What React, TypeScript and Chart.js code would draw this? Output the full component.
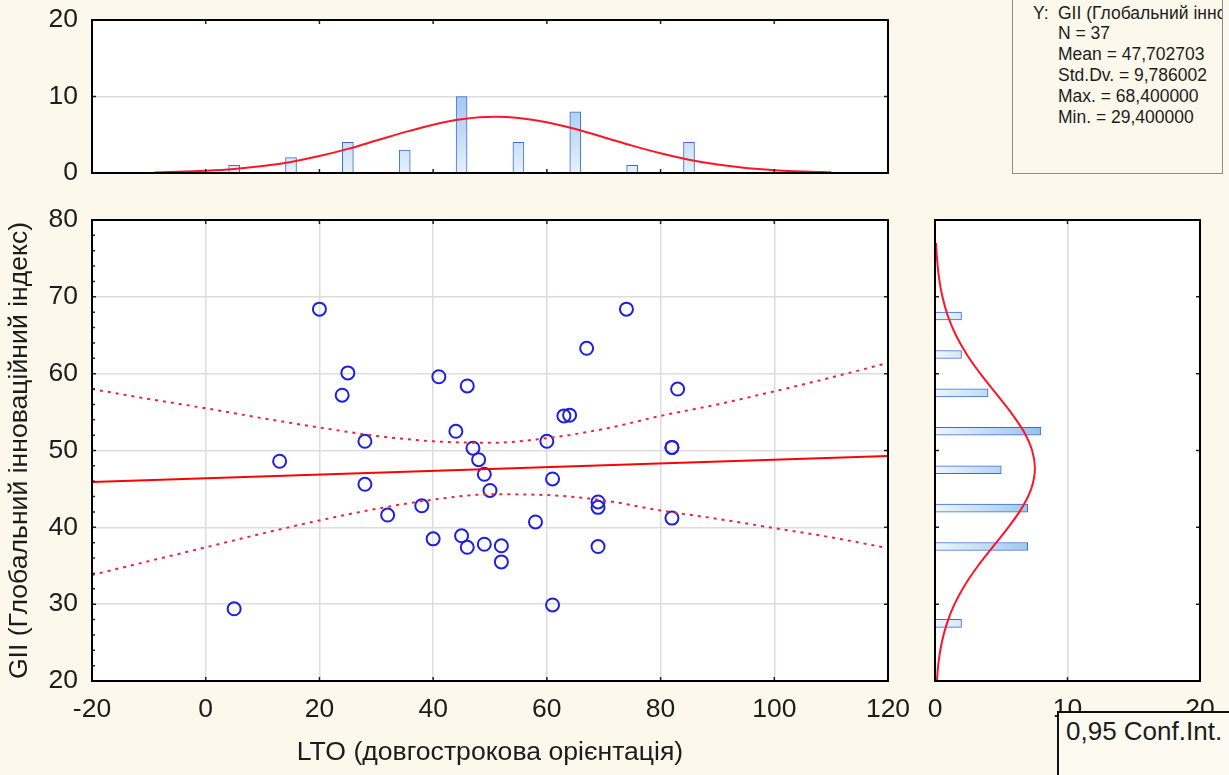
import React, { useEffect, useRef } from "react";
import { Chart, registerables } from "chart.js";
Chart.register(...registerables);

const W = 1229;
const H = 775;
const BG = "#fcf8ec";
const FONT = '"Liberation Sans", Arial, sans-serif';
const TEXT = "#1c1c1c";

// ---- Scatter data (LTO vs GII) ----
const lto = [5, 13, 20, 24, 25, 28, 28, 32, 38, 40, 41, 44, 45, 46, 46, 47, 48, 49, 49, 50, 52, 52, 58, 60, 61, 61, 63, 64, 67, 69, 69, 69, 74, 82, 82, 82, 83];
const gii = [29.4, 48.6, 68.4, 57.2, 60.1, 51.2, 45.6, 41.6, 42.8, 38.5, 59.6, 52.5, 38.9, 58.4, 37.4, 50.3, 48.8, 46.9, 37.8, 44.8, 37.6, 35.5, 40.7, 51.2, 46.3, 29.9, 54.5, 54.6, 63.3, 43.3, 42.6, 37.5, 68.4, 50.4, 50.4, 41.2, 58.0];

// ---- Regression line and 0.95 confidence band ----
const fitX = [-20, 120];
const fitY = [45.9, 49.3];
const ciX = [-20, -10, 0, 10, 20, 30, 40, 50, 60, 70, 80, 90, 100, 110, 120];
const ciUpper = [58.0, 56.7, 55.5, 54.2, 53.0, 51.9, 51.2, 51.0, 51.6, 52.8, 54.5, 56.0, 57.7, 59.5, 61.4];
const ciLower = [33.8, 35.6, 37.4, 39.2, 40.9, 42.4, 43.6, 44.3, 44.2, 43.5, 42.2, 41.1, 39.9, 38.7, 37.3];

// ---- Top histogram (LTO) ----
const ltoBins = [5, 15, 25, 35, 45, 55, 65, 75, 85];
const ltoCounts = [1, 2, 4, 3, 10, 4, 8, 1, 4];
const ltoCurveX = [-9, -5, 0, 5, 10, 15, 20, 25, 30, 35, 40, 45, 51, 55, 60, 65, 70, 75, 80, 85, 90, 95, 100, 105, 110];
const ltoCurveY = [0.08, 0.15, 0.29, 0.52, 0.9, 1.45, 2.21, 3.15, 4.24, 5.34, 6.32, 7.03, 7.35, 7.2, 6.64, 5.75, 4.68, 3.58, 2.57, 1.73, 1.1, 0.65, 0.37, 0.19, 0.09];

// ---- Right histogram (GII) ----
const giiBins = [27.5, 32.5, 37.5, 42.5, 47.5, 52.5, 57.5, 62.5, 67.5];
const giiCounts = [2, 0, 7, 7, 5, 8, 4, 2, 2];
const giiCurveY = [20, 22.5, 25, 27.5, 30, 32.5, 35, 37.5, 40, 42.5, 45, 47.7, 50, 52.5, 55, 57.5, 60, 62.5, 65, 67.5, 70, 72.5, 75, 77];
const giiCurveC = [0.14, 0.27, 0.51, 0.9, 1.47, 2.26, 3.25, 4.38, 5.53, 6.55, 7.26, 7.54, 7.33, 6.69, 5.71, 4.57, 3.42, 2.4, 1.58, 0.97, 0.56, 0.3, 0.15, 0.08];

// ---- Tick values ----
const mainXTicks = [-20, 0, 20, 40, 60, 80, 100, 120];
const mainYTicks = [20, 30, 40, 50, 60, 70, 80];
const topYTicks = [0, 10, 20];
const rightXTicks = [0, 10, 20];

const statsLines = ["N = 37", "Mean = 47,702703", "Std.Dv. = 9,786002", "Max. = 68,400000", "Min. = 29,400000"];

const GRID = "#dcdce3";
const TICK_SIZE = 26.5;
const TITLE_SIZE = 26.6;

function makeFrame(xMarks: number[], yMarks: number[], yMinor: number[] = []) {
  return {
    id: "frame",
    beforeDraw(chart: any) {
      const { ctx, chartArea } = chart;
      if (!chartArea) return;
      const { left, top, right, bottom } = chartArea;
      ctx.save();
      ctx.fillStyle = "#ffffff";
      ctx.fillRect(left, top, right - left, bottom - top);
      ctx.restore();
    },
    afterDraw(chart: any) {
      const { ctx, chartArea, scales } = chart;
      if (!chartArea) return;
      const { left, top, right, bottom } = chartArea;
      ctx.save();
      ctx.strokeStyle = "#222";
      ctx.lineWidth = 1.5;
      ctx.beginPath();
      for (const v of xMarks) {
        const px = scales.x.getPixelForValue(v);
        ctx.moveTo(px, top);
        ctx.lineTo(px, top + 4);
        ctx.moveTo(px, bottom);
        ctx.lineTo(px, bottom - 4);
      }
      for (const v of yMarks) {
        const py = scales.y.getPixelForValue(v);
        ctx.moveTo(left, py);
        ctx.lineTo(left + 4, py);
        ctx.moveTo(right, py);
        ctx.lineTo(right - 4, py);
      }
      for (const v of yMinor) {
        const py = scales.y.getPixelForValue(v);
        ctx.moveTo(left, py);
        ctx.lineTo(left + 3, py);
      }
      ctx.stroke();
      ctx.strokeStyle = "#000";
      ctx.lineWidth = 2;
      ctx.strokeRect(left, top, right - left, bottom - top);
      ctx.restore();
    },
  };
}

const fitY92 = (s: any) => {
  s.width = 92;
  s.paddingTop = 0;
  s.paddingBottom = 0;
};
const fitXBottom = (s: any) => {
  s.height = H - 681;
  s.paddingLeft = 0;
  s.paddingRight = 0;
};

export default function App() {
  const mainRef = useRef<HTMLCanvasElement>(null);
  const topRef = useRef<HTMLCanvasElement>(null);
  const rightRef = useRef<HTMLCanvasElement>(null);

  useEffect(() => {
    document.body.style.margin = "0";
    Chart.defaults.font.family = FONT;
    Chart.defaults.color = TEXT;
    const charts: Chart[] = [];

    const minorY: number[] = [];
    for (let v = 22; v < 80; v += 2) if (v % 10 !== 0) minorY.push(v);

    // Main scatter
    charts.push(
      new Chart(mainRef.current as HTMLCanvasElement, {
        type: "scatter",
        data: {
          datasets: [
            {
              type: "line",
              data: ciX.map((x, i) => ({ x, y: ciUpper[i] })),
              borderColor: "#f0203c",
              borderWidth: 2,
              borderDash: [3, 5],
              pointRadius: 0,
              cubicInterpolationMode: "monotone",
              fill: false,
            } as any,
            {
              type: "line",
              data: ciX.map((x, i) => ({ x, y: ciLower[i] })),
              borderColor: "#f0203c",
              borderWidth: 2,
              borderDash: [3, 5],
              pointRadius: 0,
              cubicInterpolationMode: "monotone",
              fill: false,
            } as any,
            {
              type: "line",
              data: fitX.map((x, i) => ({ x, y: fitY[i] })),
              borderColor: "#ff0000",
              borderWidth: 2,
              pointRadius: 0,
              fill: false,
            } as any,
            {
              type: "scatter",
              data: lto.map((x, i) => ({ x, y: gii[i] })),
              pointRadius: 6.5,
              pointBorderWidth: 2,
              borderColor: "#1f1fe0",
              pointBorderColor: "#1f1fe0",
              backgroundColor: "rgba(0,0,0,0)",
              pointBackgroundColor: "rgba(0,0,0,0)",
            } as any,
          ],
        },
        options: {
          responsive: false,
          animation: false,
          layout: { padding: { left: 0, top: 220, right: W - 888, bottom: 0 } },
          plugins: { legend: { display: false }, tooltip: { enabled: false } },
          scales: {
            x: {
              type: "linear",
              min: -20,
              max: 120,
              afterBuildTicks: (s: any) => { s.ticks = mainXTicks.map((v) => ({ value: v })); },
              ticks: { font: { size: TICK_SIZE }, padding: 13, color: TEXT },
              grid: { color: GRID, lineWidth: 1.5, drawTicks: false },
              border: { display: false },
              title: { display: true, text: "LTO (довгострокова орієнтація)", font: { size: TITLE_SIZE }, color: TEXT, padding: { top: 0, bottom: 6 } },
              afterFit: fitXBottom,
            } as any,
            y: {
              type: "linear",
              min: 20,
              max: 80,
              afterBuildTicks: (s: any) => { s.ticks = mainYTicks.map((v) => ({ value: v })); },
              ticks: { font: { size: TICK_SIZE }, padding: 14, color: TEXT },
              grid: { color: GRID, lineWidth: 1.5, drawTicks: false },
              border: { display: false },
              title: { display: true, text: "GII (Глобальний інноваційний індекс)", font: { size: TITLE_SIZE }, color: TEXT, padding: { top: 4, bottom: 0 } },
              afterFit: fitY92,
            } as any,
          },
        },
        plugins: [makeFrame([0, 20, 40, 60, 80, 100], [30, 40, 50, 60, 70], minorY)],
      } as any)
    );

    // Top histogram
    charts.push(
      new Chart(topRef.current as HTMLCanvasElement, {
        type: "bar",
        data: {
          datasets: [
            {
              type: "line",
              data: ltoCurveX.map((x, i) => ({ x, y: ltoCurveY[i] })),
              borderColor: "#ff1428",
              borderWidth: 2,
              pointRadius: 0,
              cubicInterpolationMode: "monotone",
              fill: false,
            } as any,
            {
              type: "bar",
              data: ltoBins.map((x, i) => ({ x, y: ltoCounts[i] })),
              barThickness: 11,
              borderWidth: 1,
              borderColor: "#3a6cd4",
              borderSkipped: "bottom",
              backgroundColor: (c: any) => {
                const area = c.chart.chartArea;
                if (!area) return "#b8d8f5";
                const g = c.chart.ctx.createLinearGradient(0, area.bottom, 0, area.top);
                g.addColorStop(0, "#e6f1fc");
                g.addColorStop(1, "#5f9fe6");
                return g;
              },
            } as any,
          ],
        },
        options: {
          responsive: false,
          animation: false,
          layout: { padding: { left: 0, top: 20, right: W - 888, bottom: H - 173 } },
          plugins: { legend: { display: false }, tooltip: { enabled: false } },
          scales: {
            x: { type: "linear", min: -20, max: 120, offset: false, display: false, grid: { offset: false } } as any,
            y: {
              type: "linear",
              min: 0,
              max: 20,
              afterBuildTicks: (s: any) => { s.ticks = topYTicks.map((v) => ({ value: v })); },
              ticks: { font: { size: TICK_SIZE }, padding: 14, color: TEXT },
              grid: { color: GRID, lineWidth: 1.5, drawTicks: false },
              border: { display: false },
              afterFit: fitY92,
            } as any,
          },
        },
        plugins: [makeFrame([0, 20, 40, 60, 80, 100], [10])],
      } as any)
    );

    // Right histogram
    charts.push(
      new Chart(rightRef.current as HTMLCanvasElement, {
        type: "bar",
        data: {
          datasets: [
            {
              type: "line",
              indexAxis: "y",
              data: giiCurveY.map((y, i) => ({ x: giiCurveC[i], y })),
              borderColor: "#ff1428",
              borderWidth: 2,
              pointRadius: 0,
              cubicInterpolationMode: "monotone",
              fill: false,
            } as any,
            {
              type: "bar",
              indexAxis: "y",
              data: giiBins.map((y, i) => ({ x: giiCounts[i], y })),
              barThickness: 8,
              borderWidth: 1,
              borderColor: "#3a6cd4",
              borderSkipped: "left",
              backgroundColor: (c: any) => {
                const area = c.chart.chartArea;
                if (!area) return "#b8d8f5";
                const g = c.chart.ctx.createLinearGradient(area.left, 0, area.left + 110, 0);
                g.addColorStop(0, "#eef5fd");
                g.addColorStop(1, "#8fc0ef");
                return g;
              },
            } as any,
          ],
        },
        options: {
          responsive: false,
          animation: false,
          indexAxis: "y",
          layout: { padding: { left: 935, top: 220, right: W - 1200, bottom: 0 } },
          plugins: { legend: { display: false }, tooltip: { enabled: false } },
          scales: {
            x: {
              type: "linear",
              min: 0,
              max: 20,
              afterBuildTicks: (s: any) => { s.ticks = rightXTicks.map((v) => ({ value: v })); },
              ticks: { font: { size: TICK_SIZE }, padding: 13, color: TEXT },
              grid: { color: GRID, lineWidth: 1.5, drawTicks: false, offset: false },
              border: { display: false },
              offset: false,
              afterFit: fitXBottom,
            } as any,
            y: { type: "linear", min: 20, max: 80, offset: false, display: false, grid: { offset: false } } as any,
          },
        },
        plugins: [makeFrame([10], [30, 40, 50, 60, 70])],
      } as any)
    );

    return () => charts.forEach((c) => c.destroy());
  }, []);

  const canvasStyle: React.CSSProperties = { position: "absolute", left: 0, top: 0, width: W, height: H };

  return (
    <div style={{ position: "absolute", left: 0, top: 0, width: W, height: H, background: BG, overflow: "hidden", fontFamily: FONT, color: TEXT }}>
      <canvas ref={mainRef} width={W} height={H} style={canvasStyle} />
      <canvas ref={topRef} width={W} height={H} style={canvasStyle} />
      <canvas ref={rightRef} width={W} height={H} style={canvasStyle} />
      <div
        style={{
          position: "absolute",
          left: 1012,
          top: -2,
          width: 211,
          height: 176,
          boxSizing: "border-box",
          border: "1px solid #8c8c8c",
          background: BG,
          overflow: "hidden",
          whiteSpace: "nowrap",
          fontSize: 17.5,
          lineHeight: "20.8px",
          paddingTop: 3.6,
        }}
      >
        <div style={{ position: "relative", height: 20.8 }}>
          <span style={{ position: "absolute", left: 20 }}>Y:</span>
          <span style={{ position: "absolute", left: 45 }}>GII (Глобальний інноваційний індекс)</span>
        </div>
        {statsLines.map((t) => (
          <div key={t} style={{ paddingLeft: 45 }}>{t}</div>
        ))}
      </div>
      <div
        style={{
          position: "absolute",
          left: 1057,
          top: 711,
          width: 220,
          height: 120,
          boxSizing: "border-box",
          border: "2px solid #111",
          background: "#fdfaf1",
          fontSize: 26,
          lineHeight: "30px",
          paddingTop: 3,
          paddingLeft: 7,
          whiteSpace: "nowrap",
        }}
      >
        0,95 Conf.Int.
      </div>
    </div>
  );
}
